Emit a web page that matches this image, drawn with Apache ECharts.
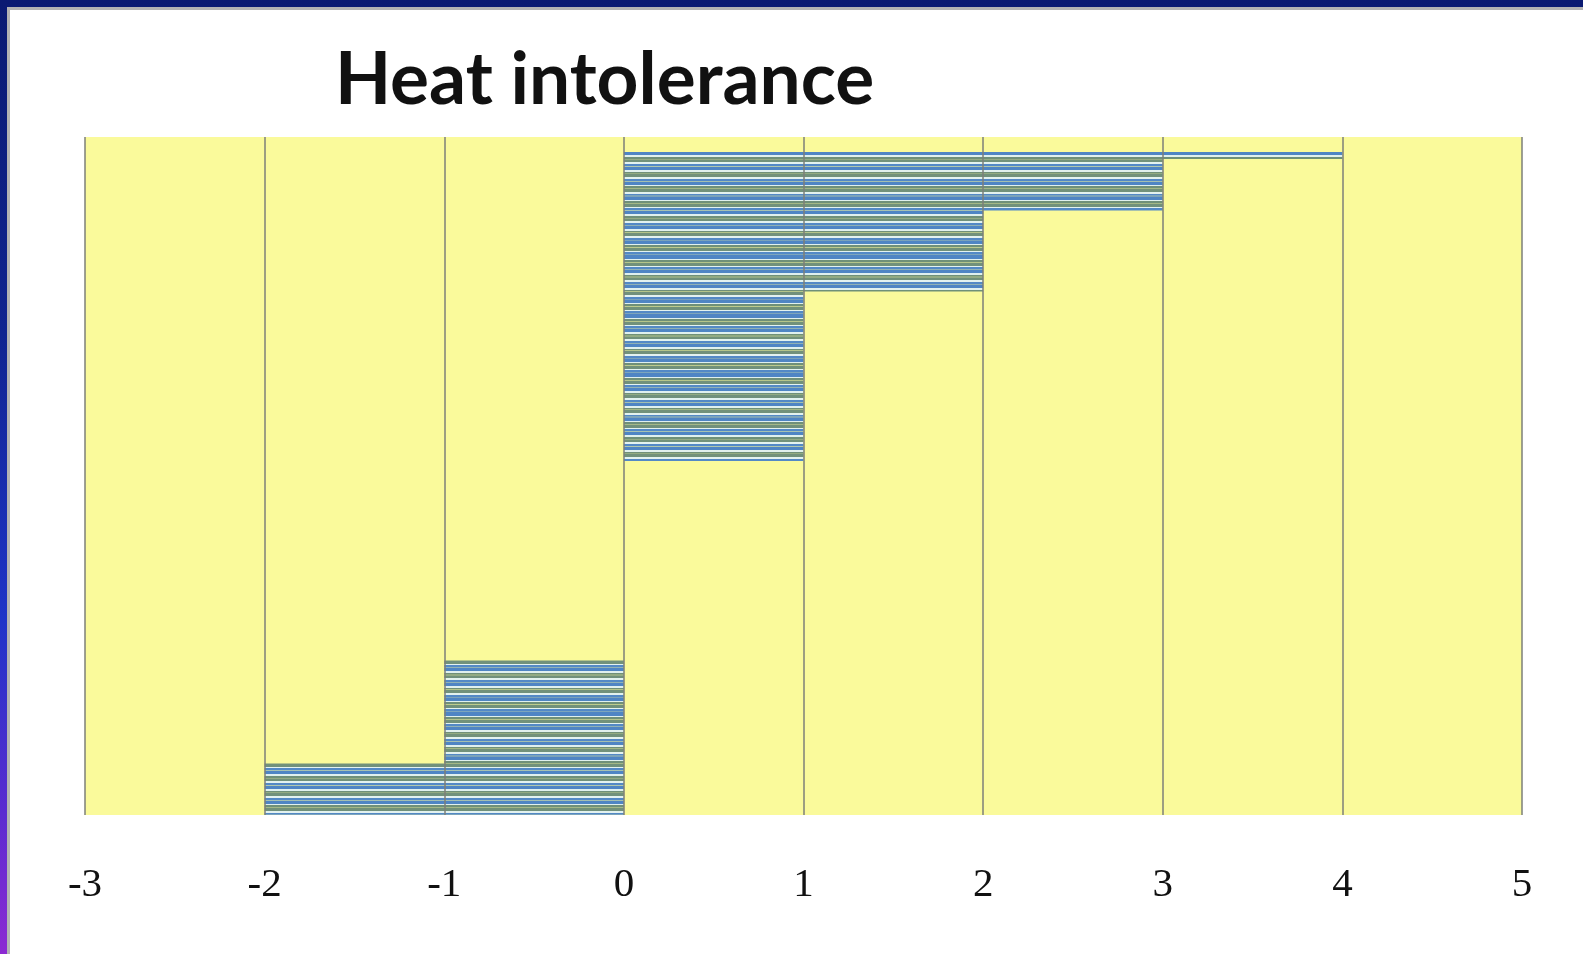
<!DOCTYPE html>
<html>
<head>
<meta charset="utf-8">
<title>Heat intolerance</title>
<script src="https://cdn.jsdelivr.net/npm/echarts@6/dist/echarts.min.js"></script>
<style>
    html, body {
        margin: 0;
        padding: 0;
        width: 1583px;
        height: 954px;
        overflow: hidden;
        background: linear-gradient(to bottom, #0a1a72 0%, #102490 35%, #1f34c8 65%, #5a2cd0 85%, #8c2ad2 100%);
    }
    #panel {
        position: absolute;
        left: 7px;
        top: 7px;
        width: 1573px;
        height: 944px;
        background: #ffffff;
        border-left: 3px solid #b3b3b3;
        border-top: 3px solid #b3b3b3;
    }
    #chart {
        width: 1573px;
        height: 944px;
    }
</style>
</head>
<body>
<div id="panel"><div id="chart"></div></div>
<script>
// change score for each patient, top row first (null = no entry)
var scores = [
    null, null,
    4,
    3, 3, 3, 3, 3, 3, 3,
    2, 2, 2, 2, 2, 2, 2, 2, 2, 2, 2,
    1, 1, 1, 1, 1, 1, 1, 1, 1, 1, 1, 1, 1, 1, 1, 1, 1, 1, 1, 1, 1, 1, 1,
    0, 0, 0, 0, 0, 0, 0, 0, 0, 0, 0, 0, 0, 0, 0, 0, 0, 0, 0, 0, 0, 0, 0, 0, 0, 0, 0,
    -1, -1, -1, -1, -1, -1, -1, -1, -1, -1, -1, -1, -1, -1,
    -2, -2, -2, -2, -2, -2, -2
];
var tickValues = [-3, -2, -1, 0, 1, 2, 3, 4, 5];
var chartTitle = 'Heat intolerance';

var rows = scores.map(function (v, i) { return 'p' + (i + 1); });

// striped look of the thin bars
var stripeA = {
    type: 'linear', x: 0, y: 0, x2: 0, y2: 1,
    colorStops: [
        { offset: 0, color: '#4f85c4' },
        { offset: 0.5, color: '#4f85c4' },
        { offset: 0.5, color: '#e0f0ee' },
        { offset: 0.72, color: '#e0f0ee' },
        { offset: 0.72, color: '#6f9079' },
        { offset: 1, color: '#6f9079' }
    ]
};
var stripeB = {
    type: 'linear', x: 0, y: 0, x2: 0, y2: 1,
    colorStops: [
        { offset: 0, color: '#71917b' },
        { offset: 0.45, color: '#71917b' },
        { offset: 0.45, color: '#e3f2ef' },
        { offset: 0.68, color: '#e3f2ef' },
        { offset: 0.68, color: '#5389c6' },
        { offset: 1, color: '#5389c6' }
    ]
};

var myChart = echarts.init(document.getElementById('chart'));

var option = {
    animation: false,
    title: {
        text: chartTitle,
        left: 320,
        top: 29,
        textStyle: {
            fontFamily: 'Lato, "Open Sans", sans-serif',
            fontWeight: 'bold',
            fontSize: 73,
            color: '#111111'
        }
    },
    grid: {
        left: 75,
        top: 127,
        width: 1437,
        height: 678,
        show: true,
        backgroundColor: '#fafa9b',
        borderWidth: 0
    },
    xAxis: {
        type: 'value',
        min: -3,
        max: 5,
        interval: 1,
        z: 5,
        axisLine: { show: false },
        axisTick: { show: false },
        splitLine: {
            show: true,
            showMinLine: true,
            showMaxLine: true,
            lineStyle: { color: '#7d7f78', width: 1.5 }
        },
        axisLabel: {
            margin: 50,
            fontFamily: '"Liberation Serif", serif',
            fontSize: 41,
            color: '#111111',
            formatter: function (v) {
                return tickValues.indexOf(v) >= 0 ? String(v) : '';
            }
        }
    },
    yAxis: {
        type: 'category',
        data: rows,
        inverse: true,
        axisLine: { show: false },
        axisTick: { show: false },
        axisLabel: { show: false },
        splitLine: { show: false }
    },
    series: [{
        type: 'bar',
        data: scores,
        barWidth: 7,
        itemStyle: {
            color: function (p) {
                return p.dataIndex % 2 === 0 ? stripeA : stripeB;
            }
        }
    }]
};

myChart.setOption(option);
</script>
</body>
</html>
